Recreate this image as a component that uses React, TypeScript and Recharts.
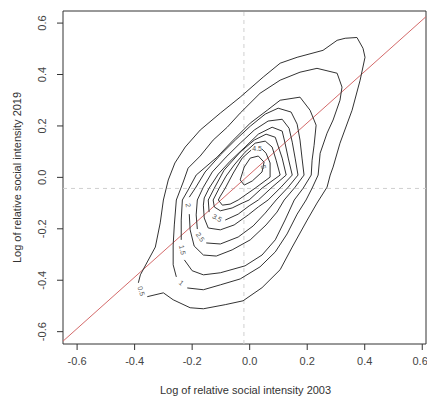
import React from 'react';
import { ScatterChart, Scatter, XAxis, YAxis, ReferenceLine, ReferenceArea } from 'recharts';

type Pair = [number, number];

const X_DOMAIN: [number, number] = [-0.649, 0.613];
const Y_DOMAIN: [number, number] = [-0.648, 0.647];
const X_TICKS = [-0.6, -0.4, -0.2, 0, 0.2, 0.4, 0.6];
const Y_TICKS = [-0.6, -0.4, -0.2, 0, 0.2, 0.4, 0.6];

// dashed guides (means) and the 45-degree reference
const MEAN_2003 = -0.02;
const MEAN_2019 = -0.043;
const DIAG_INTERCEPT = 0.012;
const DIAG_SLOPE = 1;

// density contour paths (x = 2003, y = 2019); open ones leave a gap for the label
const C05: Pair[] = [
  [-0.356, -0.464], [-0.3, -0.449], [-0.266, -0.476], [-0.207, -0.507], [-0.161, -0.511],
  [-0.085, -0.495], [-0.023, -0.48], [0.043, -0.429], [0.106, -0.359], [0.148, -0.271],
  [0.2, -0.166], [0.234, -0.1], [0.269, -0.038], [0.28, 0.009], [0.29, 0.04],
  [0.314, 0.133], [0.356, 0.261], [0.384, 0.378], [0.401, 0.467], [0.394, 0.502],
  [0.373, 0.544], [0.332, 0.541], [0.304, 0.533], [0.255, 0.494], [0.165, 0.467],
  [0.106, 0.444], [0.047, 0.39], [-0.033, 0.312], [-0.102, 0.25], [-0.172, 0.184],
  [-0.224, 0.118], [-0.26, 0.056], [-0.283, -0.01], [-0.3, -0.088], [-0.311, -0.177],
  [-0.328, -0.271], [-0.356, -0.329], [-0.38, -0.379], [-0.387, -0.41],
];

const C1: Pair[] = [
  [-0.217, -0.43], [-0.161, -0.437], [-0.102, -0.418], [-0.033, -0.395], [0.036, -0.348],
  [0.089, -0.29], [0.13, -0.22], [0.165, -0.143], [0.196, -0.088], [0.217, -0.042],
  [0.238, 0.009], [0.245, 0.094], [0.269, 0.172], [0.29, 0.223], [0.314, 0.3],
  [0.321, 0.351], [0.304, 0.405], [0.234, 0.424], [0.175, 0.409], [0.106, 0.378],
  [0.036, 0.327], [-0.033, 0.25], [-0.078, 0.195], [-0.127, 0.145], [-0.172, 0.083],
  [-0.214, 0.036], [-0.231, -0.018], [-0.255, -0.088], [-0.262, -0.185], [-0.266, -0.263],
  [-0.266, -0.34], [-0.255, -0.387],
];

const C15: Pair[] = [
  [-0.227, -0.321], [-0.2, -0.363], [-0.161, -0.379], [-0.102, -0.371], [-0.016, -0.344],
  [0.043, -0.302], [0.089, -0.243], [0.123, -0.166], [0.155, -0.088], [0.186, -0.042],
  [0.214, 0.009], [0.217, 0.067], [0.224, 0.125], [0.231, 0.203], [0.21, 0.261],
  [0.175, 0.312], [0.106, 0.3], [0.061, 0.261], [0.002, 0.211], [-0.057, 0.145],
  [-0.113, 0.079], [-0.186, 0.009], [-0.214, -0.049], [-0.234, -0.088], [-0.238, -0.166],
  [-0.238, -0.243],
];

const C2: Pair[] = [
  [-0.21, -0.143], [-0.207, -0.204], [-0.193, -0.267], [-0.161, -0.302], [-0.116, -0.306],
  [-0.061, -0.282], [0.002, -0.243], [0.057, -0.185], [0.095, -0.135], [0.12, -0.088],
  [0.158, -0.038], [0.189, 0.009], [0.182, 0.075], [0.175, 0.145], [0.165, 0.207],
  [0.144, 0.254], [0.099, 0.269], [0.054, 0.246], [0.002, 0.199], [-0.05, 0.145],
  [-0.102, 0.087], [-0.155, 0.021], [-0.189, -0.042], [-0.21, -0.077],
];

const C25: Pair[] = [
  [-0.151, -0.255], [-0.102, -0.259], [-0.04, -0.232], [0.012, -0.189], [0.054, -0.139],
  [0.092, -0.088], [0.134, -0.038], [0.168, 0.009], [0.158, 0.075], [0.148, 0.137],
  [0.137, 0.191], [0.113, 0.226], [0.064, 0.219], [0.016, 0.184], [-0.033, 0.133],
  [-0.082, 0.079], [-0.13, 0.021], [-0.161, -0.038], [-0.182, -0.088], [-0.186, -0.146],
  [-0.182, -0.201],
];

const C3: Pair[] = [
  [-0.161, -0.108], [-0.158, -0.158], [-0.144, -0.197], [-0.102, -0.204], [-0.054, -0.185],
  [-0.005, -0.146], [0.03, -0.115], [0.064, -0.088], [0.109, -0.038], [0.148, 0.009],
  [0.134, 0.075], [0.123, 0.133], [0.113, 0.18], [0.078, 0.195], [0.03, 0.168],
  [-0.016, 0.118], [-0.068, 0.063], [-0.109, 0.013], [-0.141, -0.042], [-0.158, -0.08],
  [-0.161, -0.108],
];

const C35: Pair[] = [
  [-0.085, -0.166], [-0.04, -0.143], [-0.002, -0.111], [0.03, -0.088], [0.078, -0.038],
  [0.127, 0.009], [0.113, 0.075], [0.099, 0.122], [0.089, 0.156], [0.057, 0.168],
  [0.016, 0.145], [-0.033, 0.098], [-0.089, 0.028], [-0.123, -0.042], [-0.144, -0.088],
  [-0.141, -0.135],
];

const C4: Pair[] = [
  [-0.127, -0.088], [-0.123, -0.115], [-0.102, -0.13], [-0.061, -0.119], [-0.026, -0.1],
  [-0.002, -0.088], [0.043, -0.042], [0.106, 0.009], [0.092, 0.067], [0.078, 0.118],
  [0.054, 0.141], [0.019, 0.133], [-0.016, 0.098], [-0.054, 0.048], [-0.082, 0.005],
  [-0.106, -0.042], [-0.127, -0.088],
];

const C45: Pair[] = [
  [0.005, 0.106], [-0.026, 0.075], [-0.057, 0.017], [-0.085, -0.042], [-0.102, -0.073],
  [-0.109, -0.088], [-0.095, -0.108], [-0.068, -0.104], [-0.04, -0.088], [0.019, -0.042],
  [0.071, 0.001], [0.071, 0.056], [0.057, 0.094], [0.043, 0.11],
];

const C5: Pair[] = [
  [0.002, 0.075], [0.03, 0.083], [0.05, 0.059], [0.043, 0.021], [0.009, -0.014],
  [-0.019, -0.03], [-0.033, -0.01], [-0.019, 0.04], [0.002, 0.075],
];

const CONTOURS: { level: string; path: Pair[] }[] = [
  { level: '0.5', path: C05 },
  { level: '1', path: C1 },
  { level: '1.5', path: C15 },
  { level: '2', path: C2 },
  { level: '2.5', path: C25 },
  { level: '3', path: C3 },
  { level: '3.5', path: C35 },
  { level: '4', path: C4 },
  { level: '4.5', path: C45 },
  { level: '5', path: C5 },
];

// where each level is written on its line, and the tilt of the text
const LABEL_X = [-0.377, -0.238, -0.234, -0.214, -0.172, -0.113, 0.026, 0.048];
const LABEL_Y = [-0.442, -0.41, -0.282, -0.108, -0.232, -0.158, 0.114, 0.04];
const LABEL_TEXT = ['0.5', '1', '1.5', '2', '2.5', '3.5', '4.5', '5'];
const LABEL_ANGLE = [75, 40, 80, 80, 55, 30, 0, 80];

const FONT = '"Liberation Sans", Arial, sans-serif';
const INK = '#333';

const toPoints = (path: Pair[]) => path.map(([x, y]) => ({ x, y }));

const labelData = LABEL_TEXT.map((text, i) => ({
  x: LABEL_X[i],
  y: LABEL_Y[i],
  text,
  angle: LABEL_ANGLE[i],
}));

const fmt = (v: number) => v.toFixed(1);

const NoDot = () => <g />;

function ContourLabel(props: any) {
  const { cx, cy, payload } = props;
  return (
    <text
      x={cx}
      y={cy}
      dy="0.35em"
      textAnchor="middle"
      fontSize={7}
      fontFamily={FONT}
      fill="#555"
      transform={`rotate(${payload.angle} ${cx} ${cy})`}
    >
      {payload.text}
    </text>
  );
}

function YTick(props: any) {
  const { x, y, payload } = props;
  const cx = x - 13;
  return (
    <text
      x={cx}
      y={y}
      dy="0.35em"
      textAnchor="middle"
      fontSize={11}
      fontFamily={FONT}
      fill="#444"
      transform={`rotate(-90 ${cx} ${y})`}
    >
      {fmt(payload.value)}
    </text>
  );
}

const XTitle = (props: any) => {
  const { viewBox } = props;
  return (
    <text
      x={viewBox.x + viewBox.width / 2 + 1}
      y={viewBox.y + 50}
      textAnchor="middle"
      fontSize={11}
      fontFamily={FONT}
      fill="#333"
    >
      Log of relative social intensity 2003
    </text>
  );
};

const YTitle = (props: any) => {
  const { viewBox } = props;
  const cx = viewBox.x - 6;
  const cy = viewBox.y + viewBox.height / 2;
  return (
    <text
      x={cx}
      y={cy}
      dy="0.35em"
      textAnchor="middle"
      fontSize={11}
      fontFamily={FONT}
      fill="#333"
      transform={`rotate(-90 ${cx} ${cy})`}
    >
      Log of relative social intensity 2019
    </text>
  );
};

export default function App() {
  const diag = [
    { x: X_DOMAIN[0], y: DIAG_INTERCEPT + DIAG_SLOPE * X_DOMAIN[0] },
    { x: X_DOMAIN[1], y: DIAG_INTERCEPT + DIAG_SLOPE * X_DOMAIN[1] },
  ];

  return (
    <div style={{ position: 'absolute', left: 0, top: 0, background: '#fff' }}>
      <ScatterChart width={427} height={399} margin={{ top: 11, right: 1, bottom: 0, left: 23 }}>
        <XAxis
          type="number"
          dataKey="x"
          domain={X_DOMAIN}
          ticks={X_TICKS}
          tickFormatter={fmt}
          allowDataOverflow
          axisLine={false}
          tickLine={{ stroke: INK }}
          tickSize={6}
          tickMargin={7}
          height={55}
          tick={{ fontSize: 11, fill: '#444', fontFamily: FONT }}
          label={XTitle}
        />
        <YAxis
          type="number"
          dataKey="y"
          domain={Y_DOMAIN}
          ticks={Y_TICKS}
          allowDataOverflow
          axisLine={false}
          tickLine={{ stroke: INK }}
          tickSize={6}
          width={40}
          tick={YTick}
          label={YTitle}
        />
        <ReferenceLine x={MEAN_2003} stroke="#cfcfcf" strokeDasharray="4 4" />
        <ReferenceLine y={MEAN_2019} stroke="#cfcfcf" strokeDasharray="4 4" />
        {CONTOURS.map((c) => (
          <Scatter
            key={c.level}
            name={c.level}
            data={toPoints(c.path)}
            line={{ stroke: INK, strokeWidth: 1 }}
            shape={NoDot}
            isAnimationActive={false}
          />
        ))}
        <ReferenceLine segment={diag} stroke="#d46a6a" strokeWidth={1} ifOverflow="hidden" />
        <Scatter data={labelData} shape={ContourLabel} isAnimationActive={false} />
        <ReferenceArea
          x1={X_DOMAIN[0]}
          x2={X_DOMAIN[1]}
          y1={Y_DOMAIN[0]}
          y2={Y_DOMAIN[1]}
          fill="none"
          fillOpacity={0}
          stroke={INK}
          strokeWidth={1}
        />
      </ScatterChart>
    </div>
  );
}
